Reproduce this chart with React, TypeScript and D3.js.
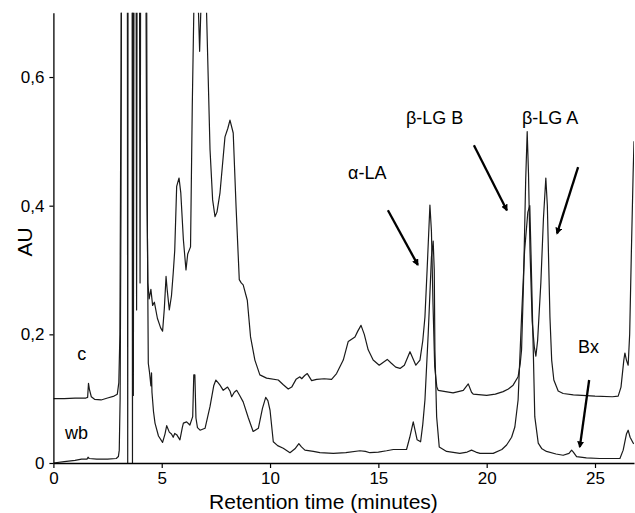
import React, { useEffect, useRef } from "react";
import * as d3 from "d3";

// Retention time (min) / absorbance (AU) for sample "c" (upper trace)
const cTimes = [0,0.5,1.0,1.5,1.58,1.62,1.66,1.75,1.9,2.2,2.5,2.8,2.95,3.02,3.07,3.1,3.13,3.18,3.64,3.69,3.74,3.8,3.84,3.88,3.95,4.0,4.05,4.22,4.3,4.36,4.42,4.5,4.58,4.66,4.8,4.95,5.04,5.12,5.2,5.25,5.35,5.45,5.53,5.6,5.69,5.8,5.88,6.0,6.12,6.2,6.33,6.41,6.49,6.6,6.68,6.75,6.82,6.95,7.07,7.23,7.35,7.46,7.55,7.69,7.92,8.05,8.15,8.3,8.43,8.58,8.67,8.76,8.95,9.1,9.3,9.53,9.84,10.38,10.6,10.84,11.0,11.2,11.38,11.46,11.6,11.72,11.92,12.15,12.5,12.84,13.07,13.38,13.61,13.92,14.05,14.2,14.35,14.53,14.76,15.04,15.2,15.41,15.6,15.8,16.0,16.2,16.46,16.6,16.73,16.92,17.05,17.15,17.25,17.38,17.45,17.52,17.6,17.7,17.76,18.1,18.45,18.92,19.15,19.3,19.38,20.0,20.4,20.76,21.0,21.22,21.45,21.55,21.61,21.7,21.8,21.87,21.93,22.0,22.1,22.2,22.27,22.35,22.5,22.62,22.73,22.8,22.92,23.0,23.1,23.3,23.53,24.0,25.0,25.8,26.07,26.2,26.33,26.38,26.45,26.53,26.6,26.68,26.76,26.8];
const cValues = [0.100,0.100,0.101,0.101,0.102,0.124,0.115,0.103,0.099,0.098,0.101,0.104,0.107,0.125,0.2,0.45,0.6,1.2,1.2,0.105,1.2,1.2,0.238,1.2,1.2,0.28,1.2,1.2,0.5,0.28,0.255,0.27,0.245,0.25,0.225,0.21,0.205,0.24,0.29,0.27,0.238,0.26,0.295,0.33,0.43,0.443,0.42,0.347,0.30,0.325,0.336,0.554,0.72,0.9,0.72,0.64,0.72,0.9,0.70,0.487,0.409,0.383,0.39,0.42,0.507,0.52,0.533,0.513,0.40,0.285,0.28,0.277,0.253,0.196,0.16,0.137,0.132,0.129,0.122,0.115,0.118,0.13,0.134,0.131,0.136,0.139,0.128,0.13,0.131,0.13,0.139,0.16,0.189,0.196,0.205,0.214,0.2,0.176,0.16,0.152,0.156,0.161,0.155,0.149,0.147,0.152,0.173,0.162,0.152,0.16,0.19,0.227,0.30,0.401,0.36,0.25,0.15,0.118,0.113,0.111,0.109,0.113,0.123,0.11,0.107,0.105,0.107,0.111,0.115,0.121,0.134,0.155,0.176,0.28,0.44,0.515,0.45,0.33,0.22,0.18,0.166,0.19,0.28,0.38,0.443,0.40,0.227,0.16,0.129,0.112,0.108,0.106,0.104,0.103,0.104,0.118,0.16,0.171,0.16,0.152,0.2,0.33,0.45,0.5];

// Sample "wb" (lower trace)
const wbTimes = [0,0.5,1.0,1.3,1.55,1.6,1.65,2.0,2.5,2.9,3.0,3.04,3.08,3.12,3.16,3.40,3.43,3.46,3.62,3.65,3.68,4.25,4.33,4.38,4.44,4.5,4.53,4.55,4.62,4.69,4.85,5.04,5.15,5.23,5.35,5.45,5.53,5.6,5.69,5.84,5.95,6.0,6.15,6.3,6.43,6.48,6.53,6.58,6.65,6.77,7.0,7.23,7.4,7.5,7.6,7.69,7.84,8.04,8.15,8.23,8.35,8.46,8.6,8.76,9.0,9.22,9.46,9.65,9.8,9.9,10.0,10.15,10.35,10.61,10.92,11.15,11.33,11.45,11.61,12.0,12.3,12.92,13.5,14.15,14.4,14.61,15.0,15.38,15.69,16.3,16.45,16.61,16.7,16.79,16.95,17.05,17.15,17.3,17.45,17.53,17.58,17.61,17.69,17.81,18.15,18.76,19.1,19.3,19.5,19.69,20.3,20.7,20.92,21.15,21.3,21.45,21.61,21.75,21.9,21.99,22.05,22.15,22.22,22.38,22.55,22.76,23.2,23.53,23.8,23.92,24.0,24.15,24.6,25.22,26.15,26.3,26.45,26.53,26.62,26.76,26.8];
const wbValues = [0.0,0.002,0.004,0.006,0.006,0.009,0.007,0.006,0.006,0.007,0.01,0.02,0.1,0.4,1.5,1.5,0.0,1.5,1.5,0.0,1.5,1.5,0.4,0.155,0.14,0.12,0.14,0.11,0.08,0.062,0.042,0.032,0.045,0.058,0.048,0.045,0.04,0.046,0.044,0.036,0.055,0.062,0.064,0.059,0.072,0.137,0.137,0.07,0.055,0.051,0.054,0.088,0.12,0.129,0.125,0.121,0.113,0.118,0.112,0.103,0.11,0.113,0.105,0.095,0.07,0.049,0.054,0.085,0.102,0.097,0.082,0.033,0.027,0.023,0.016,0.022,0.03,0.025,0.02,0.018,0.016,0.015,0.016,0.019,0.018,0.016,0.017,0.019,0.021,0.021,0.04,0.064,0.05,0.036,0.033,0.06,0.098,0.2,0.32,0.345,0.3,0.176,0.072,0.025,0.018,0.015,0.017,0.02,0.017,0.015,0.015,0.021,0.028,0.04,0.056,0.098,0.227,0.33,0.39,0.40,0.32,0.176,0.072,0.031,0.022,0.018,0.014,0.012,0.015,0.02,0.017,0.01,0.008,0.007,0.007,0.02,0.045,0.051,0.04,0.031,0.03];

const xTicks = [0, 5, 10, 15, 20, 25];
const yTicks = [0, 0.2, 0.4, 0.6];

// Peak labels: text, time, AU (baseline position)
const labelTexts = ["α-LA", "β-LG B", "β-LG A", "Bx", "c", "wb"];
const labelTimes = [13.6, 16.27, 21.63, 24.21, 1.1, 0.54];
const labelValues = [0.441, 0.527, 0.527, 0.171, 0.16, 0.037];

// Arrows: start (t, AU) -> end (t, AU)
const arrowStartT = [15.44, 19.41, 24.22, 24.73];
const arrowStartV = [0.393, 0.494, 0.46, 0.129];
const arrowEndT = [16.82, 20.93, 23.25, 24.3];
const arrowEndV = [0.308, 0.393, 0.357, 0.025];

const W = 635;
const H = 513;
const FONT = "'Liberation Sans', Arial, Helvetica, sans-serif";

export default function App() {
  const xAxisRef = useRef<SVGGElement>(null);
  const yAxisRef = useRef<SVGGElement>(null);

  const x = d3.scaleLinear().domain([0, 26.8]).range([53.4, 634]);
  const y = d3.scaleLinear().domain([0, 0.7]).range([463, 12.7]);

  const fmt = (v: number) => (v === 0 ? "0" : d3.format(".1f")(v).replace(".", ","));

  useEffect(() => {
    const gx = d3.select(xAxisRef.current!);
    gx.selectAll("*").remove();
    gx.call(
      d3.axisBottom(x).tickValues(xTicks).tickSize(5).tickSizeOuter(0).tickPadding(4).tickFormat((d: any) => String(d))
    );
    gx.select(".domain").attr("stroke", "#000").attr("stroke-width", 1.3);
    gx.selectAll(".tick line").attr("stroke", "#000").attr("stroke-width", 1.2);
    gx.selectAll(".tick text").attr("font-size", 17).attr("font-family", FONT).attr("fill", "#000");

    const gy = d3.select(yAxisRef.current!);
    gy.selectAll("*").remove();
    gy.call(
      d3.axisLeft(y).tickValues(yTicks).tickSize(4).tickSizeOuter(0).tickPadding(5).tickFormat((d: any) => fmt(d))
    );
    gy.select(".domain").attr("stroke", "#000").attr("stroke-width", 1.3);
    gy.selectAll(".tick line").attr("stroke", "#000").attr("stroke-width", 1.2);
    gy.selectAll(".tick text").attr("font-size", 17).attr("font-family", FONT).attr("fill", "#000");
  }, []);

  const line = d3
    .line<[number, number]>()
    .x((d) => x(d[0]))
    .y((d) => y(d[1]));

  const cData: [number, number][] = cTimes.map((t, i) => [t, cValues[i]]);
  const wbData: [number, number][] = wbTimes.map((t, i) => [t, wbValues[i]]);

  return (
    <svg
      width={W}
      height={H}
      style={{ position: "absolute", left: 0, top: 0, background: "#fff" }}
      fontFamily={FONT}
    >
      <defs>
        <clipPath id="plotClip">
          <rect x={x(0)} y={y(0.7)} width={x(26.8) - x(0)} height={y(0) - y(0.7) + 2} />
        </clipPath>
        <marker id="arrowHead" viewBox="0 0 10 10" refX="8" refY="5" markerWidth="3" markerHeight="3" orient="auto">
          <path d="M0,0 L10,5 L0,10 z" fill="#000" />
        </marker>
      </defs>
      <rect x={0} y={0} width={W} height={H} fill="#fff" />
      <g clipPath="url(#plotClip)">
        <path d={line(wbData) || ""} fill="none" stroke="#1a1a1a" strokeWidth={1.2} strokeLinejoin="round" />
        <path d={line(cData) || ""} fill="none" stroke="#1a1a1a" strokeWidth={1.2} strokeLinejoin="round" />
      </g>
      <g ref={xAxisRef} transform={`translate(0,${y(0)})`} />
      <g ref={yAxisRef} transform={`translate(${x(0)},0)`} />
      {arrowStartT.map((t, i) => (
        <line
          key={"a" + i}
          x1={x(t)}
          y1={y(arrowStartV[i])}
          x2={x(arrowEndT[i])}
          y2={y(arrowEndV[i])}
          stroke="#000"
          strokeWidth={2.3}
          markerEnd="url(#arrowHead)"
        />
      ))}
      {labelTexts.map((s, i) => (
        <text key={"l" + i} x={x(labelTimes[i])} y={y(labelValues[i])} fontSize={18} fill="#000">
          {s}
        </text>
      ))}
      <text x={323.5} y={509} textAnchor="middle" fontSize={21} fill="#000">
        Retention time (minutes)
      </text>
      <text transform={`translate(31.5,242) rotate(-90)`} textAnchor="middle" fontSize={21} fill="#000">
        AU
      </text>
    </svg>
  );
}
